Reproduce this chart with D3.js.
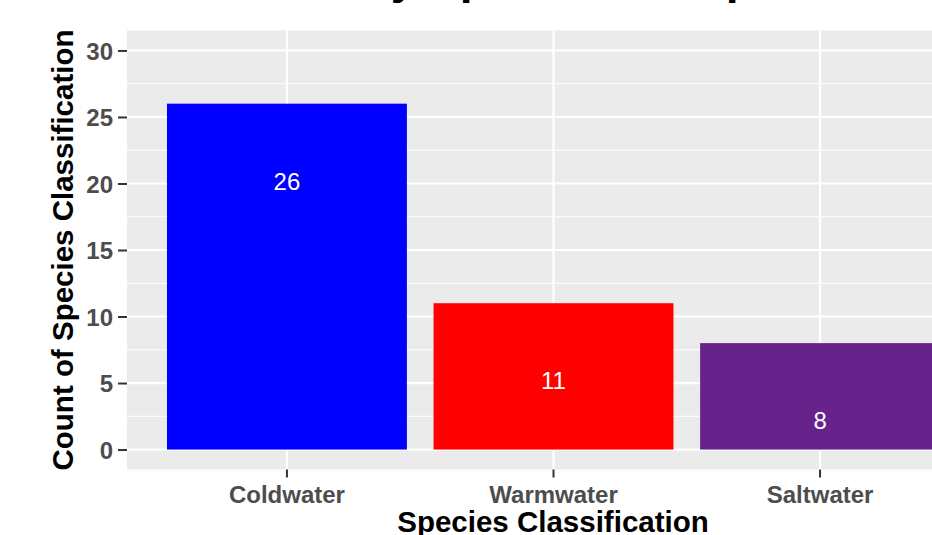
<!DOCTYPE html>
<html>
<head>
<meta charset="utf-8">
<script src="https://cdn.jsdelivr.net/npm/d3@7"></script>
<style>
  body { margin: 0; background: #fff; overflow: hidden; }
  svg { display: block; font-family: "Liberation Sans", Arial, sans-serif; }
</style>
</head>
<body>
<script>
// data
const categories = ["Coldwater", "Warmwater", "Saltwater"];
const counts = [26, 11, 8];
const barColors = ["#0000ff", "#ff0000", "#68228b"];
const yTicks = [0, 5, 10, 15, 20, 25, 30];
const yMinor = [2.5, 7.5, 12.5, 17.5, 22.5, 27.5];

const width = 932, height = 535;
const panel = { left: 127, right: 980, top: 30.5, bottom: 469.5 };

const svg = d3.select("body").append("svg")
  .attr("width", width)
  .attr("height", height);

const x = d3.scaleBand()
  .domain(categories)
  .range([panel.left, panel.right])
  .paddingInner(0.1)
  .paddingOuter(0.15);

const y = d3.scaleLinear()
  .domain([-1.5, 31.5])
  .range([panel.bottom, panel.top]);

// title (mostly cropped off the top, as in the source image)
svg.append("text")
  .attr("x", 217)
  .attr("y", -7)
  .attr("font-size", 46)
  .attr("font-weight", "bold")
  .attr("fill", "#000")
  .text("Count by Species Group");

// panel background
svg.append("rect")
  .attr("x", panel.left)
  .attr("y", panel.top)
  .attr("width", panel.right - panel.left)
  .attr("height", panel.bottom - panel.top)
  .attr("fill", "#ebebeb");

// grid
svg.append("g").selectAll("line")
  .data(yMinor)
  .join("line")
  .attr("x1", panel.left).attr("x2", panel.right)
  .attr("y1", d => y(d)).attr("y2", d => y(d))
  .attr("stroke", "#fff").attr("stroke-width", 1);

svg.append("g").selectAll("line")
  .data(yTicks)
  .join("line")
  .attr("x1", panel.left).attr("x2", panel.right)
  .attr("y1", d => y(d)).attr("y2", d => y(d))
  .attr("stroke", "#fff").attr("stroke-width", 2.2);

svg.append("g").selectAll("line")
  .data(categories)
  .join("line")
  .attr("x1", d => x(d) + x.bandwidth() / 2).attr("x2", d => x(d) + x.bandwidth() / 2)
  .attr("y1", panel.top).attr("y2", panel.bottom)
  .attr("stroke", "#fff").attr("stroke-width", 2.2);

// bars
svg.append("g").selectAll("rect")
  .data(categories)
  .join("rect")
  .attr("x", d => x(d))
  .attr("width", x.bandwidth())
  .attr("y", (d, i) => y(counts[i]))
  .attr("height", (d, i) => y(0) - y(counts[i]))
  .attr("fill", (d, i) => barColors[i]);

// bar labels, a fixed distance below the top of each bar
svg.append("g").selectAll("text")
  .data(categories)
  .join("text")
  .attr("x", d => x(d) + x.bandwidth() / 2)
  .attr("y", (d, i) => y(counts[i]) + 86)
  .attr("text-anchor", "middle")
  .attr("font-size", 24)
  .attr("fill", "#fff")
  .text((d, i) => counts[i]);

// y axis
const yAxis = svg.append("g")
  .attr("transform", `translate(${panel.left},0)`)
  .call(d3.axisLeft(y).tickValues(yTicks).tickSize(9).tickPadding(5));
yAxis.select(".domain").remove();
yAxis.selectAll(".tick line").attr("stroke", "#333").attr("stroke-width", 2);
yAxis.selectAll(".tick text")
  .attr("font-family", "Liberation Sans, Arial, sans-serif")
  .attr("font-size", 24)
  .attr("font-weight", "bold")
  .attr("fill", "#4d4d4d")
  .attr("dy", "0.36em");

// x axis
const xAxis = svg.append("g")
  .attr("transform", `translate(0,${panel.bottom})`)
  .call(d3.axisBottom(x).tickSize(8).tickPadding(8));
xAxis.select(".domain").remove();
xAxis.selectAll(".tick line").attr("stroke", "#333").attr("stroke-width", 2);
xAxis.selectAll(".tick text")
  .attr("font-family", "Liberation Sans, Arial, sans-serif")
  .attr("font-size", 24)
  .attr("font-weight", "bold")
  .attr("fill", "#4d4d4d")
  .attr("dy", "0.72em");

// axis titles
svg.append("text")
  .attr("x", 553)
  .attr("y", 532)
  .attr("text-anchor", "middle")
  .attr("font-size", 29.5)
  .attr("font-weight", "bold")
  .attr("fill", "#000")
  .text("Species Classification");

svg.append("text")
  .attr("transform", `translate(73,${(panel.top + panel.bottom) / 2}) rotate(-90)`)
  .attr("text-anchor", "middle")
  .attr("font-size", 29.5)
  .attr("font-weight", "bold")
  .attr("fill", "#000")
  .text("Count of Species Classification");
</script>
</body>
</html>
